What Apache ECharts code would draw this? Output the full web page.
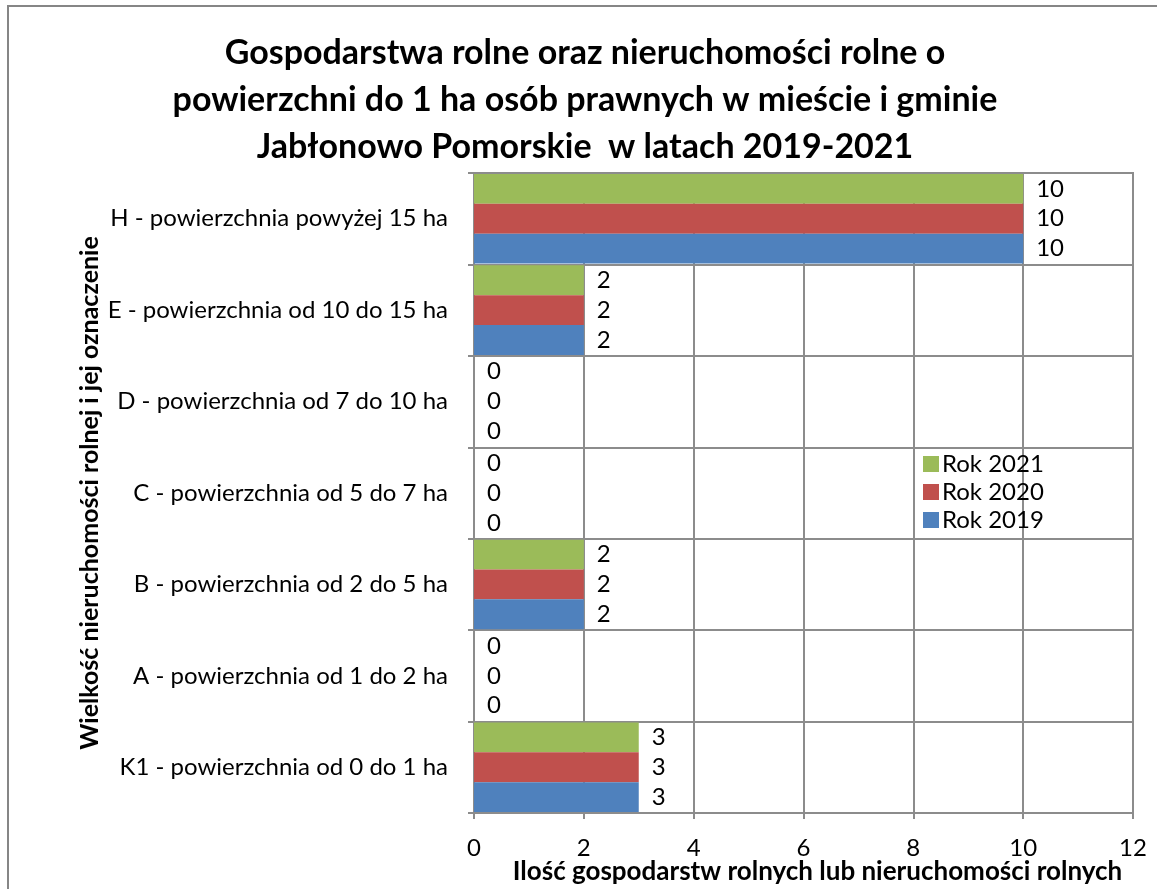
<!DOCTYPE html>
<html>
<head>
<meta charset="utf-8">
<script src="https://cdn.jsdelivr.net/npm/echarts@6/dist/echarts.min.js"></script>
<style>
  html, body { margin: 0; padding: 0; background: #fff; }
  #chart { width: 1157px; height: 889px; }
</style>
</head>
<body>
<div id="chart"></div>
<script>
// kategorie (od dołu do góry)
const categories = [
  "K1 - powierzchnia od 0 do 1 ha",
  "A - powierzchnia od 1 do 2 ha",
  "B - powierzchnia od 2 do 5 ha",
  "C - powierzchnia od 5 do 7 ha",
  "D - powierzchnia od 7 do 10 ha",
  "E - powierzchnia od 10 do 15 ha",
  "H - powierzchnia powyżej 15 ha",
];
const rok2019 = [3, 0, 2, 0, 0, 2, 10];
const rok2020 = [3, 0, 2, 0, 0, 2, 10];
const rok2021 = [3, 0, 2, 0, 0, 2, 10];
const xTicks = [0, 2, 4, 6, 8, 10, 12];

const FONT = "Lato";
const gridColor = "#8c8c8c";

const mkSeries = (name, data, color) => ({
  name: name,
  type: "bar",
  data: data,
  itemStyle: { color: color },
  barGap: "0%",
  barCategoryGap: "2%",
  label: {
    show: true,
    position: "right",
    distance: 13,
    color: "#000",
    fontFamily: FONT,
    fontSize: 24,
  },
});

const chart = echarts.init(document.getElementById("chart"));
chart.setOption({
  animation: false,
  textStyle: { fontFamily: FONT },
  title: {
    text: "Gospodarstwa rolne oraz nieruchomości rolne o\npowierzchni do 1 ha osób prawnych w mieście i gminie\nJabłonowo Pomorskie  w latach 2019-2021",
    left: 580,
    textAlign: "center",
    top: 25,
    textStyle: {
      fontFamily: FONT,
      fontWeight: "bold",
      fontSize: 34,
      lineHeight: 47,
      color: "#000",
    },
  },
  graphic: [
    {
      type: "rect",
      shape: { x: 8, y: 6, width: 1300, height: 1000 },
      style: { fill: "none", stroke: "#868686", lineWidth: 2 },
      silent: true,
    },
  ],
  legend: {
    orient: "vertical",
    left: 918,
    top: 447,
    icon: "rect",
    itemWidth: 16,
    itemHeight: 16,
    itemGap: 4,
    data: ["Rok 2021", "Rok 2020", "Rok 2019"],
    textStyle: { fontFamily: FONT, fontSize: 24, color: "#000", padding: [0, 0, 0, -2] },
  },
  grid: {
    left: 474,
    right: 24,
    top: 173,
    bottom: 76,
    outerBoundsMode: "none",
    show: true,
    borderColor: gridColor,
    borderWidth: 2,
  },
  xAxis: {
    type: "value",
    min: xTicks[0],
    max: xTicks[xTicks.length - 1],
    interval: xTicks[1] - xTicks[0],
    name: "Ilość gospodarstw rolnych lub nieruchomości rolnych",
    nameLocation: "middle",
    nameGap: 46,
    nameMoveOverlap: false,
    nameTextStyle: {
      fontFamily: FONT,
      fontWeight: "bold",
      fontSize: 26,
      color: "#000",
      padding: [0, 0, 0, 28],
    },
    axisLine: { show: true, lineStyle: { color: gridColor, width: 2 } },
    axisTick: { show: true, length: 6, lineStyle: { color: gridColor, width: 2 } },
    axisLabel: { fontFamily: FONT, fontSize: 24, color: "#000", margin: 23 },
    splitLine: { show: true, lineStyle: { color: gridColor, width: 2 } },
  },
  yAxis: {
    type: "category",
    data: categories,
    name: "Wielkość nieruchomości rolnej i jej oznaczenie",
    nameLocation: "middle",
    nameGap: 372,
    nameMoveOverlap: false,
    nameTextStyle: {
      fontFamily: FONT,
      fontWeight: "bold",
      fontSize: 25,
      color: "#000",
    },
    axisLine: { show: true, lineStyle: { color: gridColor, width: 2 } },
    axisTick: { show: true, length: 6, lineStyle: { color: gridColor, width: 2 } },
    axisLabel: { fontFamily: FONT, fontSize: 24, color: "#000", margin: 26 },
    splitLine: { show: true, lineStyle: { color: gridColor, width: 2 } },
  },
  series: [
    mkSeries("Rok 2021", rok2021, "#9BBB59"),
    mkSeries("Rok 2020", rok2020, "#C0504D"),
    mkSeries("Rok 2019", rok2019, "#4F81BD"),
  ],
});
</script>
</body>
</html>
